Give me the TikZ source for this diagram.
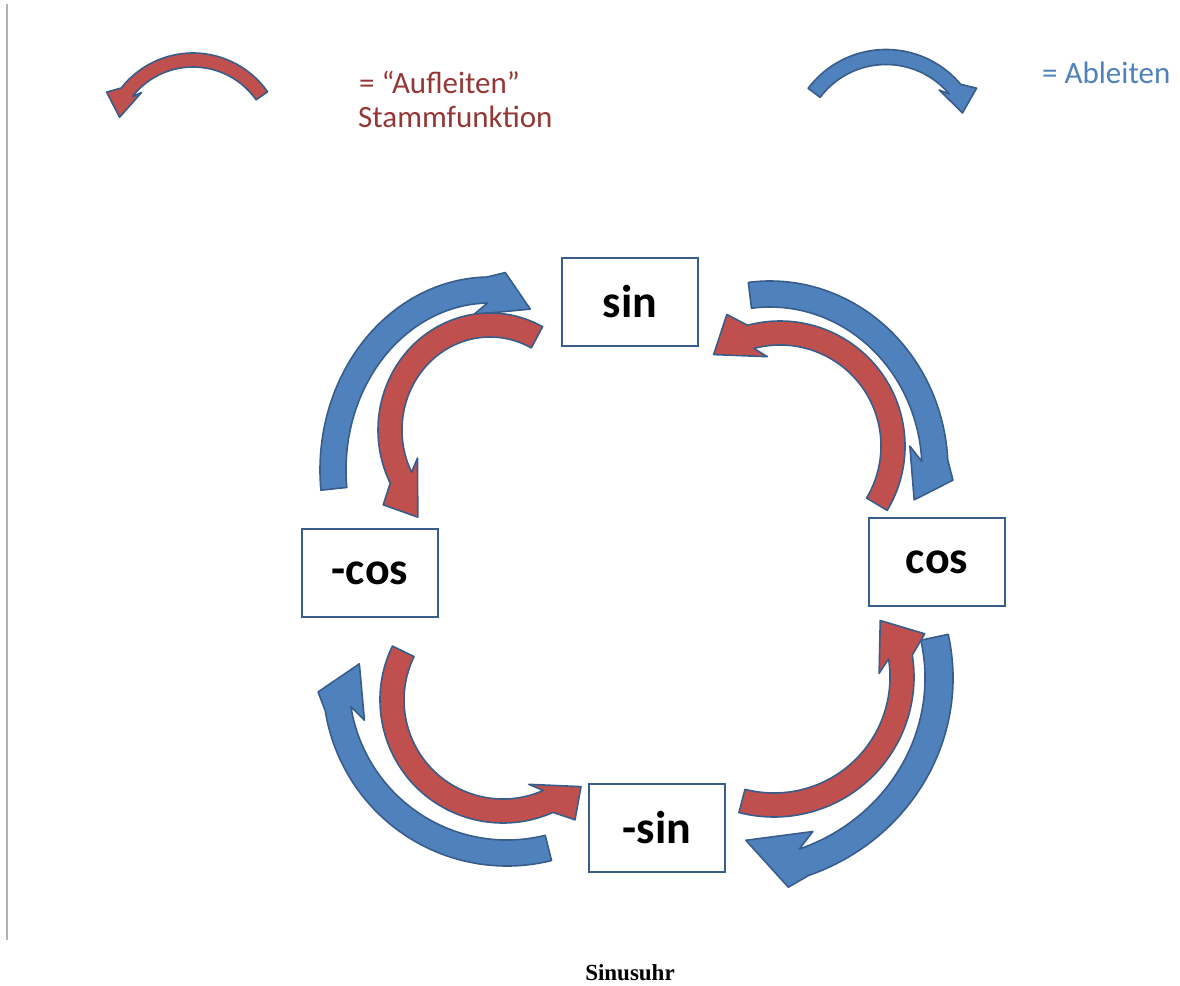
\documentclass[tikz,border=0pt]{standalone}
\usepackage{fontspec}
\setmainfont{Carlito}
\newfontfamily\captionfont{Liberation Serif}
\usetikzlibrary{positioning}
\definecolor{arrowblue}{HTML}{4F81BD}
\definecolor{arrowred}{HTML}{C0504D}
\definecolor{arrowline}{HTML}{385D8A}
\definecolor{aufcolor}{HTML}{953735}
\tikzstyle{fn box}=[draw=arrowline, line width=2pt, fill=white, minimum width=136pt, minimum height=88pt, font=\bfseries\fontsize{46}{50}\selectfont]
\tikzstyle{ableiten arrow}=[fill=arrowblue, draw=arrowline, line width=1.6pt, line join=round]
\tikzstyle{aufleiten arrow}=[fill=arrowred, draw=arrowline, line width=1.6pt, line join=round]
\tikzstyle{legend text}=[inner sep=0pt, font=\fontsize{31}{34}\selectfont]

\def\outerbarb{2.4}
\def\innerbarb{1.6}
\def\barbtilt{7}
% style, centre, x radius, y radius, tail angle, head angle, tip angle, tip factor, half width
\newcommand{\bentarrow}[9]{%
  \pgfmathsetmacro{\rxo}{#3+#9}\pgfmathsetmacro{\ryo}{#4+#9}%
  \pgfmathsetmacro{\rxi}{#3-#9}\pgfmathsetmacro{\ryi}{#4-#9}%
  \pgfmathsetmacro{\rxb}{#3+\outerbarb*#9}\pgfmathsetmacro{\ryb}{#4+\outerbarb*#9}%
  \pgfmathsetmacro{\rxc}{#3-\innerbarb*#9}\pgfmathsetmacro{\ryc}{#4-\innerbarb*#9}%
  \pgfmathsetmacro{\rxt}{#8*#3}\pgfmathsetmacro{\ryt}{#8*#4}%
  \pgfmathsetmacro{\ab}{#6+sign(#6-#5)*\barbtilt}%
  \pgfmathsetmacro{\ac}{#6-sign(#6-#5)*\barbtilt}%
  \begin{scope}[shift={#2}]
    \path[#1] ({\rxo*cos(#5)},{\ryo*sin(#5)})
      arc[start angle=#5, end angle=#6, x radius=\rxo, y radius=\ryo]
      -- ({\rxb*cos(\ab)},{\ryb*sin(\ab)})
      -- ({\rxt*cos(#7)},{\ryt*sin(#7)})
      -- ({\rxc*cos(\ac)},{\ryc*sin(\ac)})
      -- ({\rxi*cos(#6)},{\ryi*sin(#6)})
      arc[start angle=#6, end angle=#5, x radius=\rxi, y radius=\ryi]
      -- cycle;
  \end{scope}}

\begin{document}
\begin{tikzpicture}[x=1pt, y=-1pt]
      \useasboundingbox (0,0) rectangle (1180,985);
      \draw[gray!60, line width=1.5pt] (7,4) -- (7,940);

      % legend
      \bentarrow{aufleiten arrow}{(193,144)}{84}{84}{-35}{-142}{-160}{0.93}{7}
      \bentarrow{ableiten arrow}{(886,147)}{90}{90}{-143}{-40}{-24}{0.93}{7.5}
      \node[legend text, text=aufcolor, anchor=base west] (auf_line) at (359,93) {= “Aufleiten”};
      \node[legend text, text=aufcolor, anchor=base west] (stamm_line) at (358,127) {Stammfunktion};
      \node[legend text, text=arrowblue, anchor=base west] (ab_line) at (1042,83) {= Ableiten};

      % the clock
      \node[fn box] (sin_box) at (630,302) {sin};
      \node[fn box] (cos_box) at (937,562) {cos};
      \node[fn box] (msin_box) at (657,828) {-sin};
      \node[fn box] (mcos_box) at (370,573) {-cos};

      \def\outerbarb{1.4}\def\innerbarb{1.8}\def\barbtilt{6}
      \bentarrow{ableiten arrow}{(490,470)}{157}{180}{174}{269}{286}{0.93}{13}
      \bentarrow{ableiten arrow}{(770,470)}{165}{176}{263}{357}{371}{0.89}{13}
      \bentarrow{ableiten arrow}{(734,678)}{205}{196}{-12}{70}{86}{0.83}{14}
      \bentarrow{ableiten arrow}{(507,682)}{171}{171}{76}{171}{187}{0.87}{13}

      \def\outerbarb{2.4}\def\innerbarb{1.9}\def\barbtilt{7}
      \bentarrow{aufleiten arrow}{(490,430)}{100}{105}{298}{153}{131}{1.1}{12}
      \bentarrow{aufleiten arrow}{(780,446)}{113}{113}{31}{-105}{-126}{1.0}{12}
      \bentarrow{aufleiten arrow}{(774,677)}{128}{128}{104.5}{-9}{-28}{0.94}{12}
      \bentarrow{aufleiten arrow}{(503,700)}{111}{111}{206}{66}{48}{1.05}{12}

      \node[font=\captionfont\bfseries\fontsize{23}{26}\selectfont, anchor=base] (caption) at (630,980) {Sinusuhr};
\end{tikzpicture}
\end{document}
